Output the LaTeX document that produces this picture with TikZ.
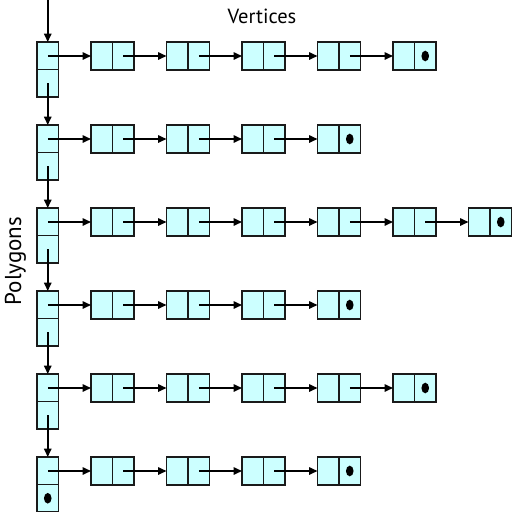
\documentclass[tikz,border=0pt]{standalone}
\usepackage{fontspec}
\setmainfont{PT Sans}
\usetikzlibrary{arrows.meta,calc}
\definecolor{cellfill}{HTML}{CCFFFF}
\definecolor{celldraw}{HTML}{1A1A1A}
\begin{document}
\begin{tikzpicture}[x=1pt,y=-1pt,
  vbox/.style={draw=celldraw,fill=cellfill,line width=1.8pt,minimum width=43pt,minimum height=28pt,inner sep=0pt,outer sep=0pt,
    path picture={\draw[celldraw,line width=1.5pt] (path picture bounding box.north) -- (path picture bounding box.south);}},
  pbox/.style={draw=celldraw,fill=cellfill,line width=1.8pt,minimum width=21.5pt,minimum height=55pt,inner sep=0pt,outer sep=0pt,
    path picture={\draw[celldraw,line width=1.5pt] (path picture bounding box.west) -- (path picture bounding box.east);}},
  arr/.style={line width=1.6pt,black,-{Triangle[length=8.5pt,width=7.5pt]}},
  nildot/.style={fill=black,draw=none},
  lbl/.style={font=\fontsize{20.5}{24}\selectfont,inner sep=0pt}
]
\useasboundingbox (0,0) rectangle (512,512);
\foreach \r/\n in {1/5,2/4,3/6,4/4,5/5,6/4} {
  \pgfmathsetmacro\T{42+83*(\r-1)}
  \node[pbox] (p\r) at ({47.75},{\T+27.5}) {};
  \foreach \c in {1,...,\n} {
    \pgfmathsetmacro\X{91+75.5*(\c-1)+21.5}
    \node[vbox] (v\r-\c) at ({\X},{\T+14}) {};
  }
  \draw[arr] (p\r.center |- v\r-1.west) -- (v\r-1.west);
  \foreach \c in {1,...,\n} {
    \pgfmathtruncatemacro\nx{\c+1}
    \ifnum\c<\n
      \draw[arr] ($(v\r-\c.center)!0.5!(v\r-\c.east)$) -- (v\r-\nx.west);
    \else
      \fill[nildot] ($(v\r-\c.center)!0.5!(v\r-\c.east)$) ellipse [x radius=3.8pt,y radius=5.3pt];
    \fi
  }
}
\coordinate (top) at ({47.75},0);
\draw[arr] (top) -- (p1.north);
\foreach \r [evaluate=\r as \nx using int(\r+1)] in {1,...,5} {
  \draw[arr] ($(p\r.center)!0.5!(p\r.south)$) -- (p\nx.north);
}
\fill[nildot] ($(p6.center)!0.5!(p6.south)$) ellipse [x radius=3.8pt,y radius=5.3pt];
\node[lbl,anchor=base] (vert) at (262,23) {Vertices};
\node[lbl,anchor=base,rotate=90,font=\fontsize{23}{27}\selectfont] (poly) at ({21},261) {Polygons};
\end{tikzpicture}
\end{document}
